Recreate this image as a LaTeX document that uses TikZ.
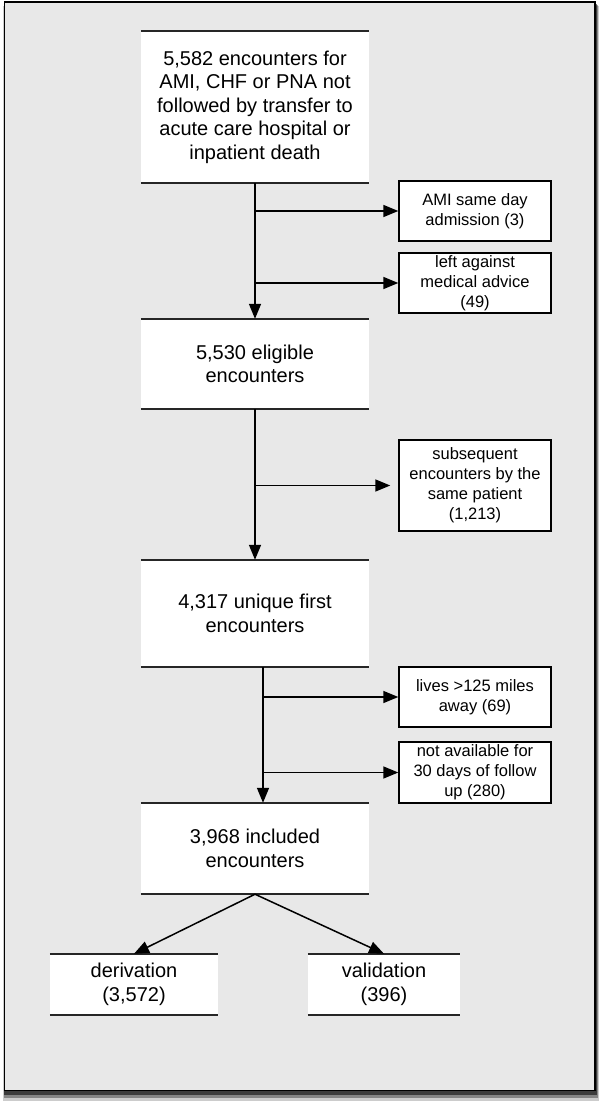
\documentclass[tikz,border=0pt]{standalone}
\usepackage{fontspec}
\setmainfont{Liberation Sans}
\usetikzlibrary{arrows.meta}
\definecolor{bggray}{HTML}{E8E8E8}
\tikzset{
  mainbox/.style={fill=white, inner sep=0pt, align=center, minimum width=228pt,
    font=\fontsize{20}{23.5}\selectfont},
  sidebox/.style={fill=white, draw=black, line width=1.4pt, inner sep=0pt, align=center,
    minimum width=152pt, font=\fontsize{16.5}{20}\selectfont},
  leafbox/.style={fill=white, inner sep=0pt, align=center, minimum height=61pt,
    font=\fontsize{20}{23.5}\selectfont},
  edge/.style={line width=1.5pt, draw=black!85},
  arr/.style={line width=1.5pt, -{Triangle[length=15pt,width=12pt]}},
}
\newcommand{\hrules}[1]{%
  \draw[edge] (#1.north west) -- (#1.north east);
  \draw[edge] (#1.south west) -- (#1.south east);}
\begin{document}
\begin{tikzpicture}[x=1pt,y=-1pt]
\useasboundingbox (0,0) rectangle (600,1102);
% shadow
\fill[black, opacity=0.2] (3,6) rectangle (599,1101);
\fill[black, opacity=0.35] (3.5,5) rectangle (598,1098);
\fill[black, opacity=0.55] (4,4) rectangle (597,1095);
% frame
\draw[fill=bggray, line width=1.5pt] (4.5,2) rectangle (595,1090.5);

% main boxes
\node[mainbox, minimum height=152pt] (b1) at (255,107)
  {5,582 encounters for\\AMI, CHF or PNA not\\followed by transfer to\\acute care hospital or\\inpatient death};
\node[mainbox, minimum height=90pt] (b2) at (255,364) {5,530 eligible\\encounters};
\node[mainbox, minimum height=107pt] (b3) at (255,613.5) {4,317 unique first\\encounters};
\node[mainbox, minimum height=91pt] (b4) at (255,848.5) {3,968 included\\encounters};
\hrules{b1}\hrules{b2}\hrules{b3}\hrules{b4}

% leaves
\node[leafbox, minimum width=168pt] (d) at (134,984.5) {derivation\\(3,572)};
\node[leafbox, minimum width=152pt] (v) at (384,984.5) {validation\\(396)};
\hrules{d}\hrules{v}

% side boxes
\node[sidebox, minimum height=60pt] (s1) at (475,211) {AMI same day\\admission (3)};
\node[sidebox, minimum height=60pt] (s2) at (475,283) {left against\\medical advice\\(49)};
\node[sidebox, minimum height=91pt] (s3) at (475,485.5) {subsequent\\encounters by the\\same patient\\(1,213)};
\node[sidebox, minimum height=60pt] (s4) at (475,697) {lives >125 miles\\away (69)};
\node[sidebox, minimum height=61pt] (s5) at (475,772.5) {not available for\\30 days of follow\\up (280)};

% main flow
\draw[arr] (b1.south) -- (b2.north);
\draw[arr] (b2.south) -- (b3.north);
\draw[arr] ([xshift=8pt]b3.south) -- ([xshift=8pt]b4.north);
\draw[arr] (b4.south) -- (d.north);
\draw[arr] (b4.south) -- (v.north);

% exclusions
\draw[arr] (b1.south |- s1.west) -- (s1.west);
\draw[arr] (b1.south |- s2.west) -- (s2.west);
\draw[arr, shorten >=8pt] (b2.south |- s3.west) -- (s3.west);
\draw[arr] ([xshift=8pt]b3.south |- s4.west) -- (s4.west);
\draw[arr] ([xshift=8pt]b3.south |- s5.west) -- (s5.west);
\end{tikzpicture}
\end{document}
